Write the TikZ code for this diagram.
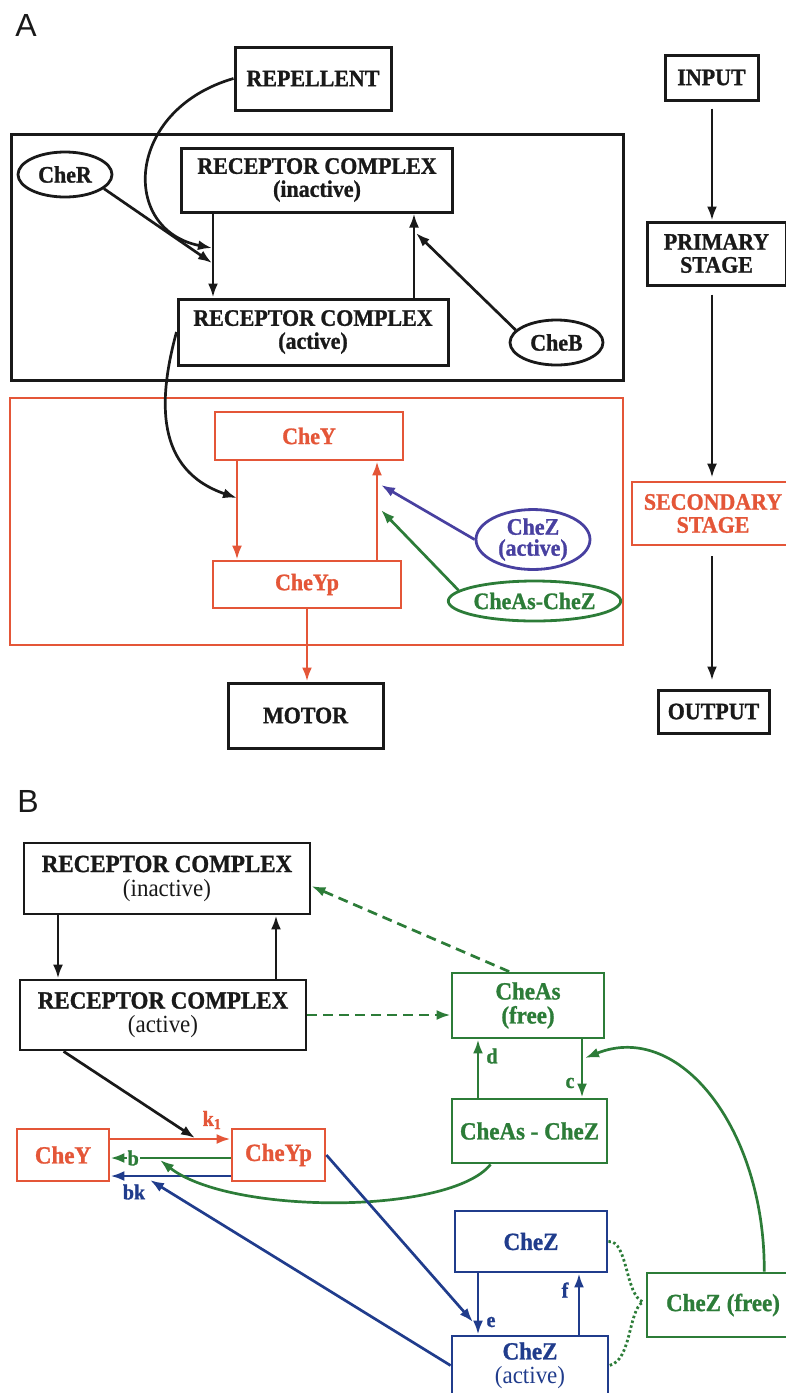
\documentclass[tikz,border=0pt]{standalone}
\usepackage{fontspec}
\setmainfont{Liberation Serif}[FakeStretch=0.93,BoldFeatures={FakeBold=1.1}]
\newfontfamily\panelfont{Liberation Sans}
\usetikzlibrary{arrows,arrows.meta,shapes}

\definecolor{cheink}{RGB}{25,25,25}
\definecolor{chered}{RGB}{228,86,56}
\definecolor{chegreen}{RGB}{44,124,56}
\definecolor{cheblue}{RGB}{32,60,140}
\definecolor{chepurple}{RGB}{72,64,160}

\begin{document}
\begin{tikzpicture}[x=1pt,y=-1pt,cheink,
  box/.style={draw,rectangle,inner sep=0pt,line width=3pt,align=center,font=\fontsize{23.6}{23}\selectfont\bfseries},
  bbox/.style={box,line width=2.8pt,font=\fontsize{24.7}{24}\selectfont\bfseries},
  oval/.style={draw,ellipse,inner sep=0pt,line width=2.8pt,align=center,font=\fontsize{23.6}{21}\selectfont\bfseries},
  arr/.style={-{Latex[length=14pt,width=10pt]},line width=2.7pt},
  dsh/.style={dash pattern=on 10pt off 6pt},
  dots/.style={line width=2.8pt,dash pattern=on 2.5pt off 2.5pt},
  lab/.style={font=\fontsize{21.5}{20}\selectfont\bfseries,inner sep=1pt},
  panel/.style={font=\fontsize{32}{32}\selectfont\panelfont}]
\useasboundingbox (0,0) rectangle (786,1393);

% A
\node[panel] (labA) at (26,25) {A};
\node[box,minimum width=156pt,minimum height=63pt] (repel) at (313,78.5) {REPELLENT};
\node[box,minimum width=93pt,minimum height=45pt] (input) at (711.5,77.5) {INPUT};
\draw[line width=3pt] (11,134) rectangle (623,380);
\node[oval,minimum width=94pt,minimum height=45pt] (cheR) at (65,174.5) {CheR};
\node[box,minimum width=271pt,minimum height=64pt] (rcA1) at (317,180) {RECEPTOR COMPLEX\\(inactive)};
\node[box,minimum width=270pt,minimum height=66pt] (rcA2) at (313,332) {RECEPTOR COMPLEX\\(active)};
\node[oval,minimum width=93pt,minimum height=45pt] (cheB) at (556.5,342.5) {CheB};
\node[box,minimum width=139pt,minimum height=63pt] (primary) at (716.5,253.5) {PRIMARY\\STAGE};
\draw[chered,line width=2.7pt] (10,398) rectangle (623,645);
\node[box,chered,line width=2.7pt,minimum width=188pt,minimum height=48pt] (cheYA) at (309,436) {CheY};
\node[box,chered,line width=2.7pt,minimum width=188pt,minimum height=47pt] (cheYpA) at (307,584.5) {CheYp};
\node[oval,chepurple,minimum width=114pt,minimum height=55pt] (cheZA) at (533,539.5) {CheZ\\(active)};
\node[oval,chegreen,minimum width=153pt,minimum height=40pt] (asZA) at (534.5,601) {CheAs-CheZ};
\node[box,minimum width=155pt,minimum height=65pt] (motor) at (305.5,715.5) {MOTOR};
\node[box,chered,line width=2.7pt,minimum width=162pt,minimum height=63pt] (second) at (713,513.5) {SECONDARY\\STAGE};
\node[box,minimum width=111pt,minimum height=43pt] (output) at (713.5,711.5) {OUTPUT};

\coordinate (repTip) at (212,248);
\coordinate (rTip) at (212,263);
\coordinate (bTip) at (416,233);
\coordinate (kTip) at (237,498);
\coordinate (zTip) at (381,485);
\coordinate (azTip) at (381,510);

\draw[arr] (213,0 |- rcA1.south) -- (213,0 |- rcA2.north);
\draw[arr] (414,0 |- rcA2.north) -- (414,0 |- rcA1.south);
\draw[arr] (repel.west) .. controls (125,110) and (120,230) .. (repTip);
\draw[arr] (cheR.-20) -- (rTip);
\draw[arr] (cheB.163) -- (bTip);
\draw[arr] (rcA2.west) .. controls (158,400) and (155,470) .. (kTip);
\draw[arr,chered] (237,0 |- cheYA.south) -- (237,0 |- cheYpA.north);
\draw[arr,chered] (377,0 |- cheYpA.north) -- (377,0 |- cheYA.south);
\draw[arr,chepurple] (cheZA.west) -- (zTip);
\draw[arr,chegreen] (asZA.172) -- (azTip);
\draw[arr,chered] (cheYpA.south) -- (cheYpA.south |- motor.north);
\draw[arr,shorten <=7pt] (712,0 |- input.south) -- (712,0 |- primary.north);
\draw[arr,shorten <=8pt,shorten >=3pt] (712,0 |- primary.south) -- (712,0 |- second.north);
\draw[arr,shorten <=10pt,shorten >=8pt] (712,0 |- second.south) -- (712,0 |- output.north);

% B
\node[panel] (labB) at (28,801) {B};
\node[bbox,minimum width=286pt,minimum height=71pt] (rcB1) at (167,878.5) {RECEPTOR COMPLEX\\\mdseries(inactive)};
\node[bbox,minimum width=286pt,minimum height=70pt] (rcB2) at (163,1015) {RECEPTOR COMPLEX\\\mdseries(active)};
\node[bbox,chegreen,minimum width=152pt,minimum height=65pt] (asfree) at (528,1005.5) {CheAs\\(free)};
\node[bbox,chegreen,minimum width=155pt,minimum height=64pt] (asZB) at (529.5,1131) {CheAs - CheZ};
\node[bbox,chered,minimum width=92pt,minimum height=52pt] (cheYB) at (63,1155) {CheY};
\node[bbox,chered,minimum width=93pt,minimum height=52pt] (cheYpB) at (278.5,1155) {CheYp};
\node[bbox,cheblue,minimum width=152pt,minimum height=61pt] (cheZB) at (531,1241.5) {CheZ};
\node[bbox,cheblue,minimum width=156pt,minimum height=59pt] (cheZactB) at (530,1365.5) {CheZ\\\mdseries(active)};
\node[bbox,chegreen,minimum width=152pt,minimum height=64pt] (freeZ) at (723,1305) {CheZ (free)};

\coordinate (aTip) at (195,1138);
\coordinate (gTip) at (160,1160);
\coordinate (bkTip) at (150,1180);
\coordinate (eTip) at (473,1322);
\coordinate (cTip) at (585,1058);
\coordinate (brace) at (643,1302);

\draw[arr] (58,0 |- rcB1.south) -- (58,0 |- rcB2.north);
\draw[arr] (276,0 |- rcB2.north) -- (276,0 |- rcB1.south);
\draw[arr,chegreen,dsh] (rcB2.east) -- (rcB2.east -| asfree.west);
\draw[arr,chegreen,dsh] (asfree.119) -- (rcB1.-3);
\draw[arr,chegreen] (478,0 |- asZB.north) -- (478,0 |- asfree.south);
\node[lab,chegreen] (d) at (492,1056) {d};
\draw[arr,chegreen] (582,0 |- asfree.south) -- (582,0 |- asZB.north);
\node[lab,chegreen] (c) at (570,1083) {c};
\draw[arr,chegreen] (freeZ.39) .. controls (765,1130) and (680,1020) .. (cTip);
\draw[arr,chered] ([yshift=16pt]cheYB.east) -- ([yshift=16pt]cheYpB.west);
\node[lab,chered] (k1) at (212,1120) {k\textsubscript{1}};
\draw[arr,chegreen] ([yshift=-3pt]cheYpB.west) -- node[lab,pos=.81,fill=white] (b) {b} ([yshift=-3pt]cheYB.east);
\draw[arr,cheblue] ([yshift=-21pt]cheYpB.west) -- ([yshift=-21pt]cheYB.east);
\node[lab,cheblue] (bk) at (134,1192) {bk};
\draw[arr] ([xshift=45pt]rcB2.south west) -- (aTip);
\draw[arr,chegreen] ([xshift=40pt]asZB.south west) .. controls (450,1215) and (230,1215) .. (gTip);
\draw[arr,cheblue] (cheZactB.west) -- (bkTip);
\draw[arr,cheblue] (cheYpB.east) -- (eTip);
\draw[arr,cheblue] (478,0 |- cheZB.south) -- (478,0 |- cheZactB.north);
\node[lab,cheblue] (e) at (491,1322) {e};
\draw[arr,cheblue] (579,0 |- cheZactB.north) -- (579,0 |- cheZB.south);
\node[lab,cheblue] (f) at (565,1290) {f};
\draw[chegreen,dots] (cheZB.east) .. controls (628,1240) and (625,1295) .. (brace)
   .. controls (628,1310) and (632,1360) .. (cheZactB.east);
   %\draw[chegreen,dots] (brace) -- (freeZ.west);
\end{tikzpicture}
\end{document}
